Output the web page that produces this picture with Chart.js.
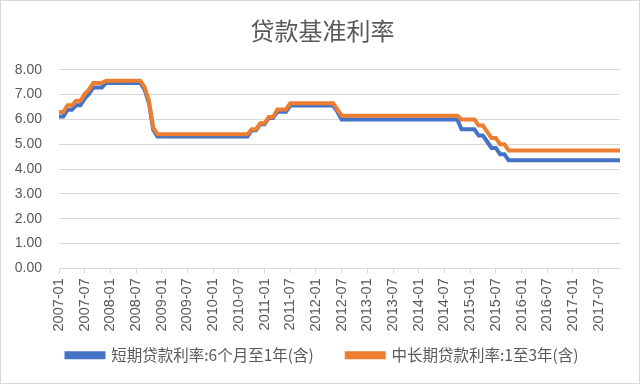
<!DOCTYPE html>
<html>
<head>
<meta charset="utf-8">
<script src="https://cdn.jsdelivr.net/npm/chart.js@4.4.1/dist/chart.umd.min.js"></script>
<style>
  html, body { margin: 0; padding: 0; background: #fff; }
  #wrap { position: relative; width: 638px; height: 382px; border: 1px solid #d9d9d9; }
</style>
</head>
<body>
<div id="wrap"><canvas id="rateChart"></canvas></div>
<script>
// 2007-01 .. 2017-12, month-end values
var years = [2007, 2008, 2009, 2010, 2011, 2012, 2013, 2014, 2015, 2016, 2017];

var shortRate = [
  6.12, 6.12, 6.39, 6.39, 6.57, 6.57, 6.84, 7.02, 7.29, 7.29, 7.29, 7.47, // 2007
  7.47, 7.47, 7.47, 7.47, 7.47, 7.47, 7.47, 7.47, 7.20, 6.66, 5.58, 5.31, // 2008
  5.31, 5.31, 5.31, 5.31, 5.31, 5.31, 5.31, 5.31, 5.31, 5.31, 5.31, 5.31, // 2009
  5.31, 5.31, 5.31, 5.31, 5.31, 5.31, 5.31, 5.31, 5.31, 5.56, 5.56, 5.81, // 2010
  5.81, 6.06, 6.06, 6.31, 6.31, 6.31, 6.56, 6.56, 6.56, 6.56, 6.56, 6.56, // 2011
  6.56, 6.56, 6.56, 6.56, 6.56, 6.31, 6.00, 6.00, 6.00, 6.00, 6.00, 6.00, // 2012
  6.00, 6.00, 6.00, 6.00, 6.00, 6.00, 6.00, 6.00, 6.00, 6.00, 6.00, 6.00, // 2013
  6.00, 6.00, 6.00, 6.00, 6.00, 6.00, 6.00, 6.00, 6.00, 6.00, 5.60, 5.60, // 2014
  5.60, 5.60, 5.35, 5.35, 5.10, 4.85, 4.85, 4.60, 4.60, 4.35, 4.35, 4.35, // 2015
  4.35, 4.35, 4.35, 4.35, 4.35, 4.35, 4.35, 4.35, 4.35, 4.35, 4.35, 4.35, // 2016
  4.35, 4.35, 4.35, 4.35, 4.35, 4.35, 4.35, 4.35, 4.35, 4.35, 4.35, 4.35  // 2017
];

var midLongRate = [
  6.30, 6.30, 6.57, 6.57, 6.75, 6.75, 7.02, 7.20, 7.47, 7.47, 7.47, 7.56, // 2007
  7.56, 7.56, 7.56, 7.56, 7.56, 7.56, 7.56, 7.56, 7.29, 6.75, 5.67, 5.40, // 2008
  5.40, 5.40, 5.40, 5.40, 5.40, 5.40, 5.40, 5.40, 5.40, 5.40, 5.40, 5.40, // 2009
  5.40, 5.40, 5.40, 5.40, 5.40, 5.40, 5.40, 5.40, 5.40, 5.60, 5.60, 5.85, // 2010
  5.85, 6.10, 6.10, 6.40, 6.40, 6.40, 6.65, 6.65, 6.65, 6.65, 6.65, 6.65, // 2011
  6.65, 6.65, 6.65, 6.65, 6.65, 6.40, 6.15, 6.15, 6.15, 6.15, 6.15, 6.15, // 2012
  6.15, 6.15, 6.15, 6.15, 6.15, 6.15, 6.15, 6.15, 6.15, 6.15, 6.15, 6.15, // 2013
  6.15, 6.15, 6.15, 6.15, 6.15, 6.15, 6.15, 6.15, 6.15, 6.15, 6.00, 6.00, // 2014
  6.00, 6.00, 5.75, 5.75, 5.50, 5.25, 5.25, 5.00, 5.00, 4.75, 4.75, 4.75, // 2015
  4.75, 4.75, 4.75, 4.75, 4.75, 4.75, 4.75, 4.75, 4.75, 4.75, 4.75, 4.75, // 2016
  4.75, 4.75, 4.75, 4.75, 4.75, 4.75, 4.75, 4.75, 4.75, 4.75, 4.75, 4.75  // 2017
];

var seriesNames = ['短期贷款利率:6个月至1年(含)', '中长期贷款利率:1至3年(含)'];
var yTicks = [0, 1, 2, 3, 4, 5, 6, 7, 8];

var labels = [];
years.forEach(function(y) {
  for (var m = 1; m <= 12; m++) {
    labels.push(y + '-' + (m < 10 ? '0' + m : m));
  }
});

var fontFamily = "'Liberation Sans', 'Noto Sans CJK SC', sans-serif";
var cjkFamily = "'Noto Sans CJK SC', sans-serif";
var textColor = '#595959';
var gridColor = '#d9d9d9';

var rateChart = new Chart(document.getElementById('rateChart'), {
  type: 'line',
  data: {
    labels: labels,
    datasets: [{
      label: seriesNames[0],
      data: shortRate,
      borderColor: '#4472c4',
      backgroundColor: '#4472c4',
      borderWidth: 4,
      pointRadius: 0,
      tension: 0,
      order: 2
    }, {
      label: seriesNames[1],
      data: midLongRate,
      borderColor: '#ed7d31',
      backgroundColor: '#ed7d31',
      borderWidth: 4,
      pointRadius: 0,
      tension: 0,
      order: 1
    }]
  },
  options: {
    responsive: true,
    maintainAspectRatio: false,
    animation: false,
    layout: { padding: { left: 6, right: 1, top: 6, bottom: 10 } },
    plugins: {
      title: {
        display: true,
        text: '贷款基准利率',
        color: textColor,
        font: { family: cjkFamily, size: 24, weight: 'normal' },
        padding: { top: 9, bottom: 25 }
      },
      legend: {
        position: 'bottom',
        labels: {
          color: textColor,
          font: { family: cjkFamily, size: 15.5 },
          boxWidth: 37,
          boxHeight: 4,
          padding: 2,
          sort: function(a, b) { return a.datasetIndex - b.datasetIndex; },
          generateLabels: function(chart) {
            var items = Chart.defaults.plugins.legend.labels.generateLabels(chart);
            // wider gap after the first entry, like the original
            items.forEach(function(it) {
              if (it.datasetIndex === 0) it.text = it.text + '\u2003\u2003';
            });
            return items;
          }
        }
      },
      tooltip: { enabled: false }
    },
    scales: {
      x: {
        offset: false,
        grid: {
          drawOnChartArea: false,
          color: gridColor,
          tickLength: 5
        },
        border: { color: gridColor },
        afterFit: function(axis) { axis.height += 9; },
        ticks: {
          autoSkip: false,
          maxRotation: 90,
          minRotation: 90,
          padding: 5,
          color: textColor,
          font: { family: fontFamily, size: 14.5 },
          callback: function(val, i) {
            return i % 6 === 0 ? labels[i] : null;
          }
        }
      },
      y: {
        min: 0,
        max: 8,
        afterBuildTicks: function(axis) {
          axis.ticks = yTicks.map(function(v) { return { value: v }; });
        },
        afterFit: function(axis) { axis.width = 52; },
        grid: { color: gridColor, drawTicks: false },
        border: { display: false },
        ticks: {
          color: textColor,
          padding: 17,
          font: { family: fontFamily, size: 14 },
          callback: function(v) { return v.toFixed(2); }
        }
      },
      // empty right-hand margin so the plot stops where the original does
      yRight: {
        position: 'right',
        afterFit: function(axis) { axis.width = 18; },
        grid: { display: false },
        border: { display: false },
        ticks: { display: false }
      }
    }
  }
});
</script>
</body>
</html>
